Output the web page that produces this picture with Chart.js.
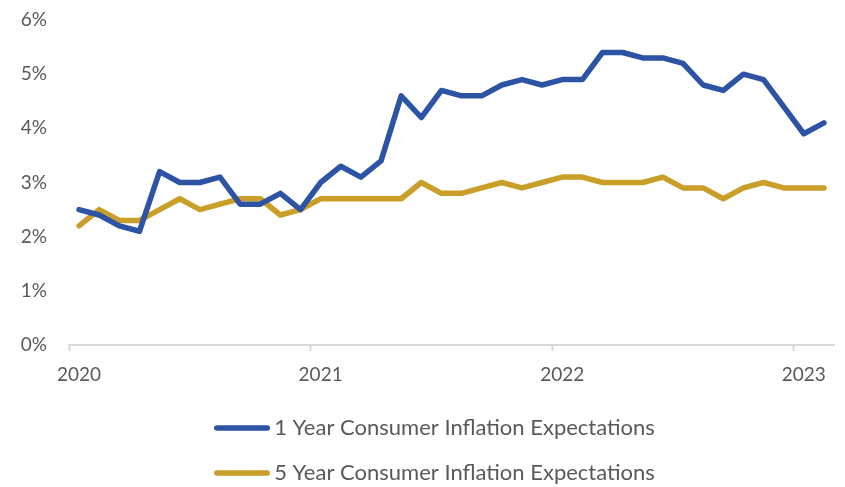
<!DOCTYPE html>
<html>
<head>
<meta charset="utf-8">
<script src="https://cdn.jsdelivr.net/npm/chart.js@4.4.1/dist/chart.umd.min.js"></script>
<style>
    html, body { margin: 0; padding: 0; background: #fff; }
    #wrap { width: 845px; height: 487px; position: relative; }
</style>
</head>
<body>
<div id="wrap"><canvas id="inflationChart"></canvas></div>
<script>
// Monthly survey readings, Jan 2020 - Feb 2023
const months = [
    'Jan 2020', 'Feb 2020', 'Mar 2020', 'Apr 2020', 'May 2020', 'Jun 2020',
    'Jul 2020', 'Aug 2020', 'Sep 2020', 'Oct 2020', 'Nov 2020', 'Dec 2020',
    'Jan 2021', 'Feb 2021', 'Mar 2021', 'Apr 2021', 'May 2021', 'Jun 2021',
    'Jul 2021', 'Aug 2021', 'Sep 2021', 'Oct 2021', 'Nov 2021', 'Dec 2021',
    'Jan 2022', 'Feb 2022', 'Mar 2022', 'Apr 2022', 'May 2022', 'Jun 2022',
    'Jul 2022', 'Aug 2022', 'Sep 2022', 'Oct 2022', 'Nov 2022', 'Dec 2022',
    'Jan 2023', 'Feb 2023'
];

const oneYear = [
    2.5, 2.4, 2.2, 2.1, 3.2, 3.0, 3.0, 3.1, 2.6, 2.6, 2.8, 2.5,
    3.0, 3.3, 3.1, 3.4, 4.6, 4.2, 4.7, 4.6, 4.6, 4.8, 4.9, 4.8,
    4.9, 4.9, 5.4, 5.4, 5.3, 5.3, 5.2, 4.8, 4.7, 5.0, 4.9, 4.4,
    3.9, 4.1
];

const fiveYear = [
    2.2, 2.5, 2.3, 2.3, 2.5, 2.7, 2.5, 2.6, 2.7, 2.7, 2.4, 2.5,
    2.7, 2.7, 2.7, 2.7, 2.7, 3.0, 2.8, 2.8, 2.9, 3.0, 2.9, 3.0,
    3.1, 3.1, 3.0, 3.0, 3.0, 3.1, 2.9, 2.9, 2.7, 2.9, 3.0, 2.9,
    2.9, 2.9
];

const seriesNames = [
    '1 Year Consumer Inflation Expectations',
    '5 Year Consumer Inflation Expectations'
];

const yTicks = [0, 1, 2, 3, 4, 5, 6];

const BLUE = '#2C53A4';
const GOLD = '#C99F29';
const TEXT = '#595959';
const AXIS = '#D9D9D9';
const FONT = 'Lato, "Open Sans", sans-serif';
const LINE_W = 5.5;

function isJanuary(i) {
    return months[i] !== undefined && months[i].startsWith('Jan');
}

// legend swatch: a short round-capped stroke, slightly wider than the legend box
// so it sits close to the label text
function legendSwatch(color) {
    const c = document.createElement('canvas');
    c.width = 56;
    c.height = 8;
    const g = c.getContext('2d');
    g.strokeStyle = color;
    g.lineWidth = LINE_W;
    g.lineCap = 'round';
    g.beginPath();
    g.moveTo(LINE_W / 2, 4);
    g.lineTo(c.width - LINE_W / 2, 4);
    g.stroke();
    return c;
}

function lineSet(label, data, color) {
    return {
        label: label,
        data: data,
        borderColor: color,
        backgroundColor: color,
        borderWidth: LINE_W,
        borderCapStyle: 'round',
        borderJoinStyle: 'round',
        pointStyle: legendSwatch(color),
        pointRadius: 0,
        pointHoverRadius: 0,
        tension: 0,
        fill: false
    };
}

// move the legend block a little right and down after layout
const legendNudge = {
    id: 'legendNudge',
    afterLayout(chart) {
        const lg = chart.legend;
        if (!lg) return;
        lg.left += 16;
        lg.right += 16;
        lg.top += 7;
        lg.bottom += 7;
    }
};

new Chart(document.getElementById('inflationChart'), {
    type: 'line',
    data: {
        labels: months,
        datasets: [
            lineSet(seriesNames[0], oneYear, BLUE),
            lineSet(seriesNames[1], fiveYear, GOLD)
        ]
    },
    plugins: [legendNudge],
    options: {
        responsive: true,
        maintainAspectRatio: false,
        animation: false,
        layout: {
            padding: { left: 10, right: 11, top: 20, bottom: 0 }
        },
        plugins: {
            tooltip: { enabled: false },
            legend: {
                display: true,
                position: 'bottom',
                labels: {
                    usePointStyle: true,
                    pointStyleWidth: 42,
                    color: TEXT,
                    padding: 23,
                    font: { family: FONT, size: 22 }
                }
            }
        },
        scales: {
            x: {
                type: 'category',
                offset: true,
                afterFit: scale => {
                    scale.height = 42;
                },
                grid: {
                    offset: true,
                    drawOnChartArea: false,
                    drawTicks: true,
                    tickLength: 6,
                    tickWidth: 2,
                    tickColor: ctx => (ctx.index !== undefined && isJanuary(ctx.index)) ? AXIS : 'rgba(0,0,0,0)'
                },
                border: { display: true, color: AXIS, width: 2 },
                ticks: {
                    autoSkip: false,
                    maxRotation: 0,
                    padding: 12,
                    color: TEXT,
                    font: { family: FONT, size: 19 },
                    callback: function(value, index) {
                        return isJanuary(index) ? months[index].slice(4) : '';
                    }
                }
            },
            y: {
                min: 0,
                max: 6,
                afterBuildTicks: scale => {
                    scale.ticks = yTicks.map(v => ({ value: v }));
                },
                afterFit: scale => {
                    scale.width = 59;
                },
                grid: {
                    display: true,
                    drawOnChartArea: false,
                    drawTicks: true,
                    tickLength: 19,
                    tickColor: 'rgba(0,0,0,0)'
                },
                border: { display: false },
                ticks: {
                    padding: 3,
                    color: TEXT,
                    font: { family: FONT, size: 19 },
                    callback: v => v + '%'
                }
            }
        }
    }
});
</script>
</body>
</html>
